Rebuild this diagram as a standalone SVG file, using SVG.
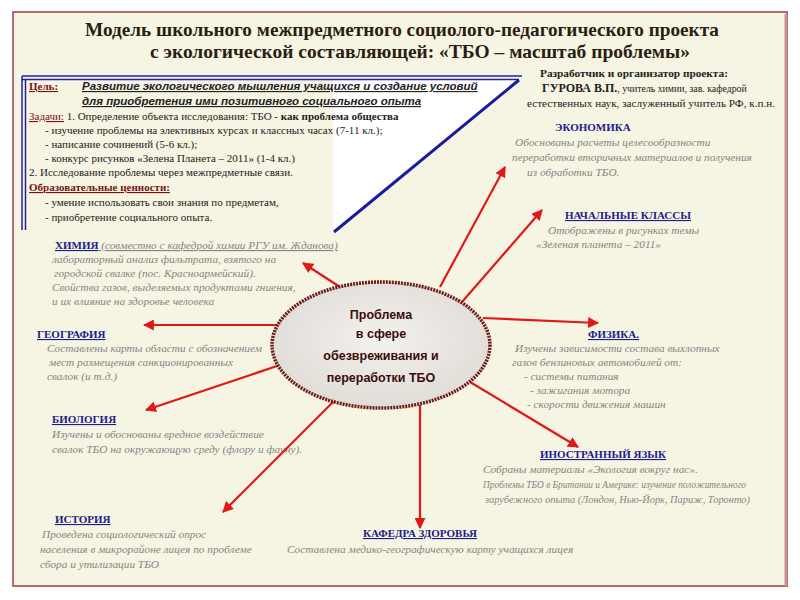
<svg xmlns="http://www.w3.org/2000/svg" width="800" height="600" viewBox="0 0 800 600">
<defs>
<marker id="ah" viewBox="0 0 10 10" refX="9" refY="5" markerWidth="5" markerHeight="5" orient="auto" markerUnits="strokeWidth">
<path d="M0,0 L10,5 L0,10 z" fill="#e01818"/>
</marker>
<radialGradient id="eg" cx="0.5" cy="0.45" r="0.6">
<stop offset="0" stop-color="#f4f2ee"/>
<stop offset="1" stop-color="#dedad4"/>
</radialGradient>
<style>
.t{font-family:"Liberation Serif",serif;fill:#2b1d14;font-weight:bold;font-size:19px}
.g{font-family:"Liberation Serif",serif;font-size:11px;fill:#222}
.gi{font-family:"Liberation Sans",sans-serif;font-size:11.5px;font-style:italic;font-weight:bold;fill:#222;text-decoration:underline}
.m{fill:#7a1212;text-decoration:underline}
.h{font-family:"Liberation Serif",serif;font-size:11px;font-weight:bold;fill:#1c1c8c;text-decoration:underline}
.d{font-family:"Liberation Serif",serif;font-size:11.3px;font-style:italic;fill:#858585}
.a{font-family:"Liberation Serif",serif;fill:#222}
.c{font-family:"Liberation Sans",sans-serif;font-size:12.5px;font-weight:bold;fill:#3c0c0c;text-anchor:middle}
.ar{stroke:#e01818;stroke-width:2.2;fill:none;marker-end:url(#ah)}
</style>
</defs>
<rect width="800" height="600" fill="#ffffff"/>
<rect x="13" y="12" width="774" height="574" fill="#f6f4e2" stroke="#b86a6a" stroke-width="2"/>
<line x1="786" y1="14" x2="786" y2="586" stroke="#c89090" stroke-width="3"/>

<g id="title">
<text class="t" x="402" y="36" text-anchor="middle" textLength="634" lengthAdjust="spacingAndGlyphs">Модель школьного межпредметного социолого-педагогического  проекта</text>
<text class="t" x="420" y="58" text-anchor="middle" textLength="540" lengthAdjust="spacingAndGlyphs">с экологической составляющей:  «ТБО – масштаб проблемы»</text>
</g>

<g id="goal">
<polygon points="333,80 518,80 333,232" fill="#ffffff"/>
<line x1="22" y1="76" x2="522" y2="76" stroke="#2020a0" stroke-width="1.5"/>
<line x1="22" y1="79.5" x2="519" y2="79.5" stroke="#2020a0" stroke-width="1.5"/>
<line x1="22" y1="76" x2="22" y2="230" stroke="#2020a0" stroke-width="1.5"/>
<line x1="25.5" y1="79.5" x2="25.5" y2="230" stroke="#2020a0" stroke-width="1.5"/>
<line x1="519" y1="80" x2="334" y2="232" stroke="#1a1aa0" stroke-width="3"/>
<text class="g" x="29" y="90"><tspan class="m" font-weight="bold">Цель:</tspan></text>
<text class="gi" x="82" y="90">Развитие экологического мышления учащихся и создание условий</text>
<text class="gi" x="82" y="105">для приобретения ими позитивного социального опыта</text>
<text class="g" x="29" y="120"><tspan class="m">Задачи:</tspan> 1. Определение объекта исследования: ТБО - <tspan font-weight="bold">как проблема общества</tspan></text>
<text class="g" x="45" y="134">-  изучение проблемы  на элективных курсах и классных часах  (7-11 кл.);</text>
<text class="g" x="45" y="148">-  написание сочинений (5-6 кл.);</text>
<text class="g" x="45" y="162">-  конкурс рисунков «Зелена Планета – 2011» (1-4  кл.)</text>
<text class="g" x="29" y="176">2.  Исследование проблемы через межпредметные связи.</text>
<text class="g" x="29" y="191"><tspan class="m" font-weight="bold">Образовательные ценности:</tspan></text>
<text class="g" x="45" y="206">- умение использовать свои знания по предметам,</text>
<text class="g" x="45" y="221">- приобретение социального опыта.</text>
</g>

<g id="author">
<text class="a" x="540" y="77" font-size="11.3" font-weight="bold">Разработчик и организатор проекта:</text>
<text class="a" x="542" y="92"><tspan font-size="12" font-weight="bold">ГУРОВА В.П.</tspan><tspan font-size="9.8">,  учитель химии, зав. кафедрой</tspan></text>
<text class="a" x="527" y="107" font-size="9.8" textLength="248" lengthAdjust="spacingAndGlyphs">естественных наук, заслуженный  учитель РФ,  к.п.н.</text>
</g>

<g id="economy">
<text class="h" x="555" y="131" style="text-decoration:none">ЭКОНОМИКА</text>
<text class="d" x="515" y="146">Обоснованы расчеты целесообразности</text>
<text class="d" x="512" y="161">переработки вторичных материалов и получения</text>
<text class="d" x="527" y="176">из обработки  ТБО.</text>
</g>

<g id="primary">
<text class="h" x="565" y="219">НАЧАЛЬНЫЕ КЛАССЫ</text>
<text class="d" x="548" y="234">Отображены в рисунках темы</text>
<text class="d" x="536" y="248">«Зеленая планета – 2011»</text>
</g>

<g id="chemistry">
<text x="55" y="249"><tspan class="h">ХИМИЯ</tspan><tspan class="d" style="text-decoration:underline"> (совместно с кафедрой  химии РГУ им. Жданова)</tspan></text>
<text class="d" x="52" y="263">лабораторный анализ фильтрата, взятого на</text>
<text class="d" x="54" y="277">городской свалке (пос. Красноармейский).</text>
<text class="d" x="52" y="291">Свойства газов, выделяемых продуктами гниения,</text>
<text class="d" x="52" y="305">и их влияние на здоровье человека</text>
</g>

<g id="geography">
<text class="h" x="37" y="338">ГЕОГРАФИЯ</text>
<text class="d" x="47" y="352">Составлены карты области с обозначением</text>
<text class="d" x="49" y="366">мест размещения санкционированных</text>
<text class="d" x="47" y="380">свалок (и т.д.)</text>
</g>

<g id="biology">
<text class="h" x="52" y="423">БИОЛОГИЯ</text>
<text class="d" x="52" y="438">Изучены и обоснованы  вредное воздействие</text>
<text class="d" x="52" y="453">свалок ТБО на окружающую среду (флору и фауну).</text>
</g>

<g id="history">
<text class="h" x="55" y="523">ИСТОРИЯ</text>
<text class="d" x="42" y="538">Проведена социологический опрос</text>
<text class="d" x="40" y="553">населения в микрорайоне лицея по проблеме</text>
<text class="d" x="40" y="568">сбора и утилизации ТБО</text>
</g>

<g id="health">
<text class="h" x="363" y="537">КАФЕДРА ЗДОРОВЬЯ</text>
<text class="d" x="287" y="553">Составлена медико-географическую карту учащихся лицея</text>
</g>

<g id="physics">
<text class="h" x="588" y="338">ФИЗИКА.</text>
<text class="d" x="515" y="352">Изучены зависимости состава выхлопных</text>
<text class="d" x="512" y="366">газов бензиновых автомобилей от:</text>
<text class="d" x="524" y="380">- системы питания</text>
<text class="d" x="530" y="394">- зажигания мотора</text>
<text class="d" x="527" y="408">- скорости движения машин</text>
</g>

<g id="language">
<text class="h" x="540" y="458">ИНОСТРАННЫЙ   ЯЗЫК</text>
<text class="d" x="483" y="473">Собраны материалы «Экология вокруг нас».</text>
<text class="d" x="483" y="488" textLength="263" lengthAdjust="spacingAndGlyphs">Проблемы  ТБО в Британии и  Америке: изучение положительного</text>
<text class="d" x="485" y="503" textLength="265" lengthAdjust="spacingAndGlyphs">зарубежного опыта (Лондон, Нью-Йорк, Париж, Торонто)</text>
</g>

<g id="connectors">
<line class="ar" x1="440" y1="287" x2="505" y2="167"/>
<line class="ar" x1="462" y1="302" x2="542" y2="210"/>
<line class="ar" x1="340" y1="287" x2="303" y2="263"/>
<line class="ar" x1="278" y1="325" x2="144" y2="325"/>
<line class="ar" x1="277" y1="366" x2="146" y2="410"/>
<line class="ar" x1="335" y1="400" x2="223" y2="512"/>
<line class="ar" x1="420" y1="405" x2="420" y2="528"/>
<line class="ar" x1="470" y1="382" x2="578" y2="447"/>
<line class="ar" x1="483" y1="318" x2="598" y2="323"/>
</g>

<g id="center">
<ellipse cx="381" cy="345" rx="109" ry="63" fill="url(#eg)" stroke="#6e1a1a" stroke-width="3.5" stroke-dasharray="2 1"/>
<text class="c" x="381" y="319">Проблема</text>
<text class="c" x="381" y="338">в сфере</text>
<text class="c" x="381" y="360">обезвреживания и</text>
<text class="c" x="381" y="382">переработки ТБО</text>
</g>
</svg>
